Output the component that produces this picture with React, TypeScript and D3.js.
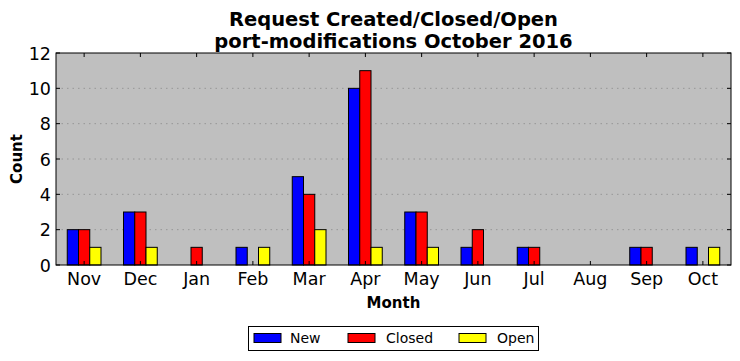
import * as d3 from "d3";

const months = ["Nov", "Dec", "Jan", "Feb", "Mar", "Apr", "May", "Jun", "Jul", "Aug", "Sep", "Oct"];
const newCounts = [2, 3, 0, 1, 5, 10, 3, 1, 1, 0, 1, 1];
const closedCounts = [2, 3, 1, 0, 4, 11, 3, 2, 1, 0, 1, 0];
const openCounts = [1, 1, 0, 1, 2, 1, 1, 0, 0, 0, 0, 1];
const yTicks = [0, 2, 4, 6, 8, 10, 12];

const series = [
  { name: "New", values: newCounts, color: "#0000ff", offset: -0.3 },
  { name: "Closed", values: closedCounts, color: "#ff0000", offset: -0.1 },
  { name: "Open", values: openCounts, color: "#ffff00", offset: 0.1 },
];

const font = "DejaVu Sans, sans-serif";

export default function App() {
  const width = 740;
  const height = 361;
  const margin = { top: 53, right: 9, bottom: 96, left: 56 };
  const innerW = width - margin.left - margin.right;
  const innerH = height - margin.top - margin.bottom;

  const x = d3.scaleLinear().domain([-0.5, months.length - 0.5]).range([0, innerW]);
  const y = d3.scaleLinear().domain([0, 12]).range([innerH, 0]);
  const barW = x(0.2) - x(0);

  const legendItems = [
    { name: "New", color: "#0000ff", px: 254, tx: 290 },
    { name: "Closed", color: "#ff0000", px: 348, tx: 386 },
    { name: "Open", color: "#ffff00", px: 459, tx: 497 },
  ];

  return (
    <svg
      width={width}
      height={height}
      style={{ position: "absolute", left: 0, top: 0, fontFamily: font }}
    >
      <rect width={width} height={height} fill="#ffffff" />
      <text x={393.5} y={26} textAnchor="middle" fontSize={19.5} fontWeight="bold">
        Request Created/Closed/Open
      </text>
      <text x={393.5} y={48} textAnchor="middle" fontSize={19.5} fontWeight="bold">
        port-modifications October 2016
      </text>

      <g transform={`translate(${margin.left},${margin.top})`}>
        <rect width={innerW} height={innerH} fill="#bfbfbf" />
        {yTicks.slice(1, -1).map((t) => (
          <line
            key={`g${t}`}
            x1={0}
            x2={innerW}
            y1={y(t)}
            y2={y(t)}
            stroke="#8c8c8c"
            strokeWidth={0.8}
            strokeDasharray="1.5,4"
          />
        ))}

        {series.map((s) =>
          s.values.map((v, i) => (
            <rect
              key={`${s.name}${i}`}
              x={x(i + s.offset)}
              y={y(v)}
              width={barW}
              height={y(0) - y(v)}
              fill={s.color}
              stroke="#000"
              strokeWidth={1}
            />
          ))
        )}

        {months.map((m, i) => (
          <g key={m}>
            <line x1={x(i)} x2={x(i)} y1={innerH} y2={innerH - 4} stroke="#000" />
            <line x1={x(i)} x2={x(i)} y1={0} y2={4} stroke="#000" />
            <text x={x(i)} y={innerH + 20} textAnchor="middle" fontSize={17.5}>
              {m}
            </text>
          </g>
        ))}

        {yTicks.map((t) => (
          <g key={`y${t}`}>
            <line x1={0} x2={4} y1={y(t)} y2={y(t)} stroke="#000" />
            <line x1={innerW} x2={innerW - 4} y1={y(t)} y2={y(t)} stroke="#000" />
            <text x={-5} y={y(t) + 6.5} textAnchor="end" fontSize={17.5}>
              {t}
            </text>
          </g>
        ))}

        <rect width={innerW} height={innerH} fill="none" stroke="#000" strokeWidth={1} />
      </g>

      <text
        transform="translate(22,159) rotate(-90)"
        textAnchor="middle"
        fontSize={15}
        fontWeight="bold"
      >
        Count
      </text>
      <text x={393.5} y={308} textAnchor="middle" fontSize={15} fontWeight="bold">
        Month
      </text>

      <rect x={248.5} y={326.5} width={290} height={24} fill="#fff" stroke="#000" />
      {legendItems.map((l) => (
        <g key={l.name}>
          <rect x={l.px} y={333.5} width={27} height={9} fill={l.color} stroke="#000" />
          <text x={l.tx} y={343} fontSize={14}>
            {l.name}
          </text>
        </g>
      ))}
    </svg>
  );
}
